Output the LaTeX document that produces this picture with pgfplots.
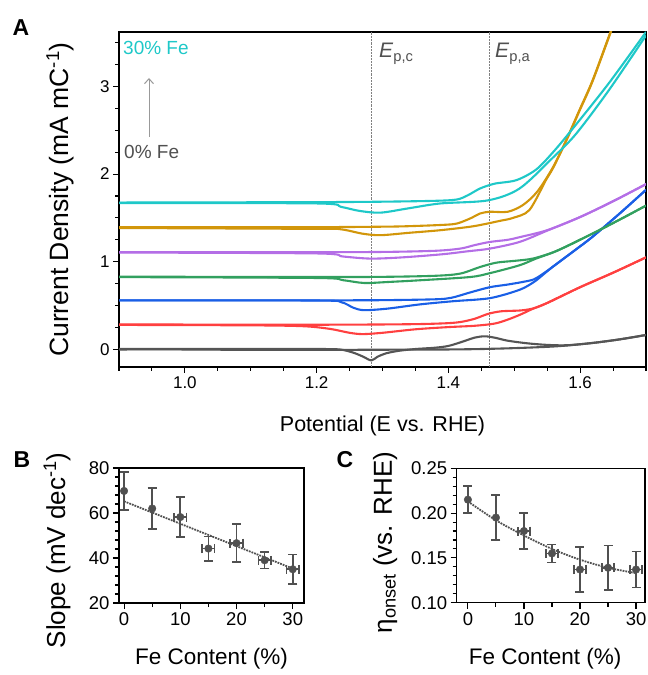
\documentclass[border=0pt]{standalone}
\usepackage{fontspec}
\setmainfont{Liberation Sans}
\usepackage{pgfplots}
\pgfplotsset{compat=1.18}
\usetikzlibrary{arrows.meta}
\definecolor{c0}{RGB}{85,85,85}
\definecolor{c5}{RGB}{255,64,64}
\definecolor{c10}{RGB}{26,95,230}
\definecolor{c15}{RGB}{50,160,95}
\definecolor{c20}{RGB}{180,110,230}
\definecolor{c25}{RGB}{210,150,10}
\definecolor{c30}{RGB}{30,200,200}
\definecolor{dg}{RGB}{80,80,80}
\pgfplotsset{
  common/.style={
    scale only axis, tick align=outside, tick pos=left,
    axis line style={line width=1.3pt},
    every tick/.style={line width=1.1pt, black},
    major tick length=6pt, minor tick length=4pt,
    /pgf/number format/assume math mode=true,
  },
}
\begin{document}
\begin{tikzpicture}[x=1pt,y=1pt]
% ---------------- Panel A
\begin{axis}[common, at={(119pt,308pt)}, anchor=south west, width=527pt, height=335pt,
  xmin=0.9, xmax=1.7, ymin=-0.2, ymax=3.62,
  xtick={1.0,1.2,1.4,1.6}, minor xtick={0.9,0.95,...,1.7},
  ytick={0,1,2,3}, minor ytick={0.25,0.5,0.75,1.25,1.5,1.75,2.25,2.5,2.75,3.25,3.5},
  xticklabel style={font=\fontsize{17}{20}\selectfont, /pgf/number format/.cd, fixed, fixed zerofill, precision=1},
  yticklabel style={font=\fontsize{17}{20}\selectfont},
  xlabel={Potential (E vs. RHE)}, ylabel={Current Density (mA mC\textsuperscript{-1})},
  xlabel style={font=\fontsize{21.5}{26}\selectfont, at={(axis description cs:0.5,-0.176)}, anchor=center},
  ylabel style={font=\fontsize{26.5}{30}\selectfont, at={(axis description cs:-0.112,0.5)}, anchor=center},
  every axis plot/.append style={line width=2.1pt, smooth},
]
\addplot[gray, densely dotted, line width=0.7pt, sharp plot] coordinates {(1.2836,-0.2) (1.2836,3.62)};
\addplot[gray, densely dotted, line width=0.7pt, sharp plot] coordinates {(1.4615,-0.2) (1.4615,3.62)};
% 0% Fe
\addplot[c0] coordinates {(0.9,0.0)(1.0,0.0)(1.1,-0.005)(1.2,-0.005)(1.3,-0.003)(1.4,0.0)(1.45,0.005)(1.5,0.015)(1.55,0.03)(1.58,0.045)(1.62,0.075)(1.66,0.115)(1.7,0.165)};
\addplot[c0] coordinates {(0.9,0.005)(1.0,0.005)(1.1,0.005)(1.2,0.005)(1.235,0.0)(1.255,-0.035)(1.27,-0.08)(1.283,-0.125)(1.292,-0.085)(1.305,-0.045)(1.325,-0.015)(1.35,0.005)(1.38,0.02)(1.40,0.04)(1.42,0.085)(1.44,0.135)(1.455,0.15)(1.47,0.135)(1.49,0.1)(1.52,0.07)(1.55,0.052)(1.58,0.048)(1.62,0.075)(1.66,0.115)(1.7,0.165)};
% 5% Fe
\addplot[c5] coordinates {(0.9,0.285)(1.1,0.283)(1.2,0.282)(1.3,0.285)(1.36,0.29)(1.40,0.30)(1.42,0.315)(1.44,0.35)(1.46,0.405)(1.48,0.435)(1.51,0.445)(1.53,0.47)(1.55,0.53)(1.6,0.71)(1.65,0.875)(1.7,1.05)};
\addplot[c5] coordinates {(0.9,0.28)(1.1,0.275)(1.18,0.265)(1.22,0.235)(1.25,0.19)(1.27,0.175)(1.30,0.19)(1.35,0.23)(1.40,0.255)(1.44,0.27)(1.47,0.295)(1.49,0.34)(1.51,0.40)(1.53,0.47)(1.55,0.53)(1.6,0.71)(1.65,0.875)(1.7,1.05)};
% 10% Fe
\addplot[c10] coordinates {(0.9,0.56)(1.1,0.56)(1.2,0.56)(1.3,0.562)(1.38,0.572)(1.405,0.59)(1.433,0.65)(1.463,0.71)(1.49,0.74)(1.513,0.77)(1.53,0.80)(1.545,0.87)(1.558,0.94)(1.59,1.12)(1.618,1.28)(1.66,1.55)(1.7,1.82)};
\addplot[c10] coordinates {(0.9,0.56)(1.2,0.558)(1.237,0.54)(1.256,0.475)(1.272,0.448)(1.307,0.465)(1.357,0.514)(1.407,0.55)(1.463,0.585)(1.508,0.68)(1.53,0.77)(1.545,0.86)(1.558,0.94)(1.59,1.12)(1.618,1.28)(1.66,1.55)(1.7,1.82)};
% 15% Fe
\addplot[c15] coordinates {(0.9,0.83)(1.2,0.826)(1.3,0.828)(1.38,0.84)(1.418,0.865)(1.448,0.94)(1.473,0.99)(1.5,1.01)(1.528,1.036)(1.56,1.11)(1.588,1.207)(1.629,1.36)(1.665,1.50)(1.7,1.64)};
\addplot[c15] coordinates {(0.9,0.825)(1.2,0.815)(1.24,0.79)(1.272,0.758)(1.31,0.77)(1.357,0.789)(1.433,0.826)(1.463,0.87)(1.508,0.96)(1.533,1.036)(1.56,1.11)(1.588,1.207)(1.629,1.36)(1.665,1.50)(1.7,1.64)};
% 20% Fe
\addplot[c20] coordinates {(0.9,1.11)(1.2,1.11)(1.3,1.112)(1.38,1.125)(1.418,1.15)(1.44,1.19)(1.463,1.226)(1.49,1.25)(1.508,1.28)(1.55,1.36)(1.6,1.51)(1.65,1.69)(1.7,1.885)};
\addplot[c20] coordinates {(0.9,1.105)(1.2,1.095)(1.24,1.06)(1.282,1.036)(1.33,1.05)(1.39,1.085)(1.43,1.12)(1.463,1.15)(1.508,1.226)(1.55,1.355)(1.6,1.51)(1.65,1.69)(1.7,1.885)};
% 25% Fe
\addplot[c25] coordinates {(0.9,1.395)(1.2,1.395)(1.3,1.40)(1.337,1.405)(1.39,1.42)(1.413,1.436)(1.435,1.50)(1.448,1.55)(1.463,1.57)(1.49,1.57)(1.513,1.646)(1.535,1.80)(1.559,2.08)(1.579,2.39)(1.599,2.73)(1.619,3.07)(1.6466,3.63)(1.655,3.78)};
\addplot[c25] coordinates {(0.9,1.385)(1.2,1.375)(1.237,1.37)(1.27,1.32)(1.297,1.303)(1.34,1.33)(1.388,1.36)(1.438,1.405)(1.478,1.466)(1.498,1.50)(1.523,1.59)(1.548,1.93)(1.559,2.07)(1.579,2.38)(1.599,2.72)(1.619,3.06)(1.6466,3.62)(1.655,3.78)};
% 30% Fe
\addplot[c30] coordinates {(0.9,1.675)(1.2,1.68)(1.3,1.685)(1.38,1.695)(1.413,1.71)(1.43,1.76)(1.448,1.835)(1.47,1.89)(1.503,1.93)(1.533,2.05)(1.559,2.25)(1.589,2.52)(1.644,3.04)(1.7,3.62)};
\addplot[c30] coordinates {(0.9,1.67)(1.2,1.665)(1.237,1.626)(1.265,1.58)(1.297,1.56)(1.34,1.61)(1.388,1.665)(1.46,1.70)(1.508,1.835)(1.559,2.19)(1.594,2.46)(1.644,2.96)(1.7,3.58)};
\end{axis}
% ---------------- Panel B
\begin{axis}[common, at={(119pt,72pt)}, anchor=south west, width=185pt, height=135pt,
  xmin=-0.9, xmax=32, ymin=20, ymax=80,
  xtick={0,10,20,30}, minor x tick num=1,
  ytick={20,40,60,80}, minor y tick num=4,
  tick label style={font=\fontsize{18.5}{21}\selectfont},
  xlabel={Fe Content (\%)}, ylabel={Slope (mV dec\textsuperscript{-1})},
  xlabel style={font=\fontsize{22.5}{26}\selectfont, at={(axis description cs:0.5,-0.415)}, anchor=center},
  ylabel style={font=\fontsize{26}{30}\selectfont, at={(axis description cs:-0.335,0.39)}, anchor=center},
]
\addplot[dg, densely dotted, line width=1.8pt] coordinates {(0,65.2)(30,35.3)};
\addplot[dg, only marks, mark=*, mark size=3.8pt, mark options={fill=dg, draw=dg},
  error bars/.cd, y dir=both, y explicit,
  error bar style={line width=1.7pt, dg},
  error mark options={rotate=90, mark size=4.5pt, line width=1.7pt, dg}]
  table[x=x, y=y, y error=ey] {
x y ey
0 69.8 8.5
5 62 9
10 58.2 9
15 44.2 5.4
20 46.6 8.4
25 39 3.7
30 35 6.6
};
\addplot[draw=none, mark=none,
  error bars/.cd, x dir=both, x explicit,
  error bar style={line width=1.7pt, dg},
  error mark options={rotate=90, mark size=4.5pt, line width=1.7pt, dg}]
  table[x=x, y=y, x error=ex] {
x y ex
10 58.2 1.1
15 44.2 1.1
20 46.6 1.1
25 39 1.1
30 35 1.1
};
\end{axis}
% ---------------- Panel C
\begin{axis}[common, at={(456.7pt,72.3pt)}, anchor=south west, width=188.3pt, height=134.4pt,
  xmin=-2, xmax=31.6, ymin=0.1, ymax=0.25,
  xtick={0,10,20,30}, minor x tick num=1,
  ytick={0.10,0.15,0.20,0.25}, minor y tick num=4,
  tick label style={font=\fontsize{18.5}{21}\selectfont},
  yticklabel style={/pgf/number format/.cd, fixed, fixed zerofill, precision=2},
  xlabel={Fe Content (\%)}, ylabel={η\textsubscript{onset} (vs. RHE)},
  xlabel style={font=\fontsize{22.5}{26}\selectfont, at={(axis description cs:0.47,-0.419)}, anchor=center},
  ylabel style={font=\fontsize{26}{30}\selectfont, at={(axis description cs:-0.38,0.448)}, anchor=center},
]
\addplot[dg, densely dotted, line width=1.8pt, smooth] coordinates {(0,0.213)(5,0.192)(10,0.175)(15,0.160)(20,0.148)(25,0.139)(30,0.133)};
\addplot[dg, only marks, mark=*, mark size=3.8pt, mark options={fill=dg, draw=dg},
  error bars/.cd, y dir=both, y explicit,
  error bar style={line width=1.7pt, dg},
  error mark options={rotate=90, mark size=4.5pt, line width=1.7pt, dg}]
  table[x=x, y=y, y error=ey] {
x y ey
0 0.215 0.015
5 0.195 0.025
10 0.180 0.020
15 0.155 0.010
20 0.137 0.025
25 0.139 0.025
30 0.137 0.020
};
\addplot[draw=none, mark=none,
  error bars/.cd, x dir=both, x explicit,
  error bar style={line width=1.7pt, dg},
  error mark options={rotate=90, mark size=4.5pt, line width=1.7pt, dg}]
  table[x=x, y=y, x error=ex] {
x y ex
10 0.180 1.1
15 0.155 1.1
20 0.137 1.1
25 0.139 1.1
30 0.137 1.1
};
\end{axis}
% annotations
\node[anchor=west, text=c30, font=\fontsize{19}{22}\selectfont, inner sep=0] at (123,627) {30\% Fe};
\node[anchor=west, text=dg, font=\fontsize{19}{22}\selectfont, inner sep=0] at (124,523) {0\% Fe};
\draw[-{Straight Barb[length=5pt,width=9pt]}, color=gray!80, line width=1pt] (149,538) -- (149,597);
\node[anchor=base west, text=dg, font=\fontsize{21}{24}\selectfont, inner sep=0] at (379,617) {\textit{E}\textsubscript{p,c}};
\node[anchor=base west, text=dg, font=\fontsize{21}{24}\selectfont, inner sep=0] at (495,617) {\textit{E}\textsubscript{p,a}};
\node[font=\fontsize{23}{26}\selectfont\bfseries] at (21,647) {A};
\node[font=\fontsize{23}{26}\selectfont\bfseries] at (22,215) {B};
\node[font=\fontsize{23}{26}\selectfont\bfseries] at (345,215) {C};
\pgfresetboundingbox
\path[use as bounding box] (0,0) rectangle (648,675);
\end{tikzpicture}
\end{document}
